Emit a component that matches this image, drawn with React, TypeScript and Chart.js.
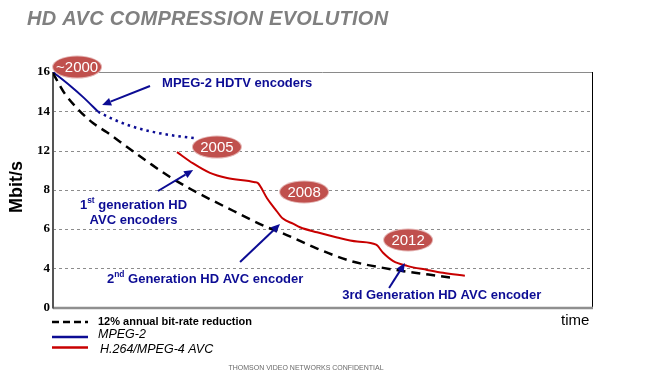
import React, { useEffect, useRef } from "react";
import { Chart, registerables } from "chart.js";

Chart.register(...registerables);

// Y axis tick labels (evenly spaced on the axis)
const yTickLabels = [0, 4, 6, 8, 12, 14, 16];

// 12% annual bit-rate reduction reference (dashed)
const refYears = [2000.0, 2000.22, 2000.38, 2000.82, 2001.26, 2001.7, 2002.11, 2002.49, 2003.06, 2003.69, 2004.38, 2005.68, 2006.75, 2007.25, 2008.33, 2009.37, 2010.41, 2012.58];
const refMbps = [15.95, 15.3, 14.88, 14.05, 13.4, 12.93, 12.45, 12.0, 10.68, 9.3, 8.0, 6.93, 6.09, 5.78, 5.0, 4.38, 4.02, 3.03];

// MPEG-2 measured (solid)
const mpeg2Years = [2000.0, 2000.54, 2000.95, 2001.42];
const mpeg2Mbps = [16, 15.3, 14.72, 13.98];

// MPEG-2 projected (dotted)
const mpeg2LateYears = [2001.42, 2001.89, 2002.43, 2003.06, 2003.69, 2004.51];
const mpeg2LateMbps = [13.98, 13.6, 13.26, 12.98, 12.79, 12.62];

// H.264/MPEG-4 AVC
const avcYears = [2003.91, 2004.42, 2004.95, 2005.49, 2006.37, 2006.47, 2006.75, 2007.0, 2007.25, 2007.57, 2007.79, 2008.33, 2008.96, 2009.59, 2010.19, 2010.41, 2010.72, 2011.17, 2011.8, 2012.3, 2012.99];
const avcMbps = [11.84, 10.68, 9.72, 9.2, 8.77, 8.66, 7.57, 7.03, 6.53, 6.27, 6.09, 5.83, 5.57, 5.36, 5.2, 4.79, 4.38, 4.12, 3.83, 3.53, 3.23];

// Era badges: label, year, axis position
const badgeLabels = ["~2000", "2005", "2008", "2012"];
const badgeYears = [2000.76, 2005.17, 2007.92, 2011.2];
const badgeLevels = [6.127, 4.089, 2.943, 1.72];

const BLUE = "#0c0c94";
const RED = "#c80000";

function toLevel(v: number): number {
  const t = yTickLabels;
  for (let i = 0; i < t.length - 1; i++) {
    if (v <= t[i + 1] || i === t.length - 2) {
      return i + (v - t[i]) / (t[i + 1] - t[i]);
    }
  }
  return t.length - 1;
}

function pts(xs: number[], ys: number[]) {
  return xs.map((x, i) => ({ x, y: toLevel(ys[i]) }));
}

type Part = { t: string; sup?: boolean };

function drawParts(ctx: CanvasRenderingContext2D, parts: Part[], x: number, y: number, size: number, align: "left" | "center") {
  const font = (s: number) => `bold ${s}px "Liberation Sans", Arial, sans-serif`;
  let total = 0;
  parts.forEach((p) => {
    ctx.font = font(p.sup ? size * 0.65 : size);
    total += ctx.measureText(p.t).width;
  });
  let cx = align === "center" ? x - total / 2 : x;
  ctx.textAlign = "left";
  ctx.textBaseline = "middle";
  parts.forEach((p) => {
    ctx.font = font(p.sup ? size * 0.65 : size);
    ctx.fillText(p.t, cx, p.sup ? y - size * 0.35 : y);
    cx += ctx.measureText(p.t).width;
  });
}

function arrow(ctx: CanvasRenderingContext2D, x1: number, y1: number, x2: number, y2: number) {
  const ang = Math.atan2(y2 - y1, x2 - x1);
  const hl = 9, hw = 4;
  const bx = x2 - hl * Math.cos(ang), by = y2 - hl * Math.sin(ang);
  ctx.save();
  ctx.strokeStyle = BLUE;
  ctx.fillStyle = BLUE;
  ctx.lineWidth = 2;
  ctx.beginPath();
  ctx.moveTo(x1, y1);
  ctx.lineTo(bx, by);
  ctx.stroke();
  ctx.beginPath();
  ctx.moveTo(x2, y2);
  ctx.lineTo(bx + hw * Math.sin(ang), by - hw * Math.cos(ang));
  ctx.lineTo(bx - hw * Math.sin(ang), by + hw * Math.cos(ang));
  ctx.closePath();
  ctx.fill();
  ctx.restore();
}

const decor = {
  id: "decor",
  beforeDatasetsDraw(chart: any) {
    const { ctx, chartArea: a, scales } = chart;
    const ys = scales.y;
    ctx.save();
    // gridlines
    ctx.strokeStyle = "#8c8c8c";
    ctx.lineWidth = 1;
    ctx.setLineDash([3, 3]);
    for (let l = 1; l < yTickLabels.length - 1; l++) {
      const y = Math.round(ys.getPixelForValue(l)) + 0.5;
      ctx.beginPath();
      ctx.moveTo(a.left, y);
      ctx.lineTo(a.right, y);
      ctx.stroke();
    }
    ctx.setLineDash([]);
    // frame
    ctx.strokeStyle = "#8a8a8a";
    ctx.lineWidth = 1;
    ctx.beginPath();
    ctx.moveTo(a.left, Math.round(a.top) + 0.5);
    ctx.lineTo(a.right, Math.round(a.top) + 0.5);
    ctx.stroke();
    ctx.strokeStyle = "#000";
    ctx.beginPath();
    ctx.moveTo(Math.round(a.right) + 0.5, a.top);
    ctx.lineTo(Math.round(a.right) + 0.5, a.bottom + 1);
    ctx.stroke();
    ctx.strokeStyle = "#8f8f8f";
    ctx.lineWidth = 2.5;
    ctx.beginPath();
    ctx.moveTo(a.left, a.bottom + 0.5);
    ctx.lineTo(a.right + 1, a.bottom + 0.5);
    ctx.stroke();
    ctx.strokeStyle = "#555";
    ctx.lineWidth = 2;
    ctx.beginPath();
    ctx.moveTo(a.left, a.top);
    ctx.lineTo(a.left, a.bottom + 1);
    ctx.stroke();
    ctx.restore();
  },
  afterDatasetsDraw(chart: any) {
    const { ctx, scales } = chart;
    const xs = scales.x, ys = scales.y;
    const X = (v: number) => xs.getPixelForValue(v);
    const Y = (v: number) => ys.getPixelForValue(v);
    ctx.save();

    // badges
    badgeLabels.forEach((lab, i) => {
      const cx = X(badgeYears[i]), cy = Y(badgeLevels[i]);
      ctx.fillStyle = "#e3b3b2";
      ctx.beginPath();
      ctx.ellipse(cx, cy, 25, 11.5, 0, 0, Math.PI * 2);
      ctx.fill();
      ctx.fillStyle = "#c0504d";
      ctx.beginPath();
      ctx.ellipse(cx, cy, 24, 10.5, 0, 0, Math.PI * 2);
      ctx.fill();
      ctx.fillStyle = "#fff";
      ctx.font = '15px "Liberation Sans", Arial, sans-serif';
      ctx.textAlign = "center";
      ctx.textBaseline = "middle";
      ctx.fillText(lab, cx, cy + 1);
    });

    // arrows
    arrow(ctx, X(2003.06), Y(5.643), X(2001.55), Y(5.159));
    arrow(ctx, X(2003.31), Y(2.968), X(2004.42), Y(3.503));
    arrow(ctx, X(2005.9), Y(1.159), X(2007.16), Y(2.127));
    arrow(ctx, X(2010.6), Y(0.497), X(2011.1), Y(1.134));

    // annotation texts
    ctx.fillStyle = BLUE;
    drawParts(ctx, [{ t: "MPEG-2 HDTV encoders" }], X(2003.44), Y(5.72), 13, "left");
    drawParts(ctx, [{ t: "1" }, { t: "st", sup: true }, { t: " generation HD" }], X(2002.54), Y(2.611), 13, "center");
    drawParts(ctx, [{ t: "AVC encoders" }], X(2002.54), Y(2.229), 13, "center");
    drawParts(ctx, [{ t: "2" }, { t: "nd", sup: true }, { t: " Generation HD AVC encoder" }], X(2001.7), Y(0.726), 13, "left");
    drawParts(ctx, [{ t: "3rd Generation HD AVC encoder" }], X(2009.12), Y(0.318), 13, "left");
    ctx.restore();
  },
  afterDraw(chart: any) {
    const { ctx } = chart;
    ctx.save();
    // title
    ctx.fillStyle = "#808080";
    ctx.font = 'italic bold 20px "Liberation Sans", Arial, sans-serif';
    ctx.textAlign = "left";
    ctx.textBaseline = "middle";
    try { (ctx as any).letterSpacing = "0.3px"; } catch (e) {}
    ctx.fillText("HD AVC COMPRESSION EVOLUTION", 27, 19.5);
    try { (ctx as any).letterSpacing = "0px"; } catch (e) {}

    // y title
    ctx.save();
    ctx.translate(17, 187);
    ctx.rotate(-Math.PI / 2);
    ctx.fillStyle = "#000";
    ctx.font = 'bold 18px "Liberation Sans", Arial, sans-serif';
    ctx.textAlign = "center";
    ctx.fillText("Mbit/s", 0, 0);
    ctx.restore();

    // time
    ctx.fillStyle = "#000";
    ctx.font = '15px "Liberation Sans", Arial, sans-serif';
    ctx.textAlign = "left";
    ctx.fillText("time", 561, 321);

    // legend
    const ds = chart.data.datasets;
    const rows = [
      { y: 322, ty: 322, ds: ds[0], font: 'bold 11px "Liberation Sans", Arial, sans-serif', tx: 98 },
      { y: 337, ty: 335, ds: ds[1], font: 'italic 12.5px "Liberation Sans", Arial, sans-serif', tx: 98 },
      { y: 347.5, ty: 350, ds: ds[3], font: 'italic 12.5px "Liberation Sans", Arial, sans-serif', tx: 100 },
    ];
    rows.forEach((r, i) => {
      ctx.strokeStyle = r.ds.borderColor;
      ctx.lineWidth = 2.5;
      ctx.setLineDash(i === 0 ? [7, 4] : []);
      ctx.beginPath();
      ctx.moveTo(52, r.y);
      ctx.lineTo(88, r.y);
      ctx.stroke();
      ctx.setLineDash([]);
      ctx.fillStyle = "#000";
      ctx.font = r.font;
      ctx.fillText(r.ds.label, r.tx, r.ty);
    });

    // confidentiality footer
    ctx.fillStyle = "#6a6a6a";
    ctx.font = '7px "Liberation Sans", Arial, sans-serif';
    ctx.textAlign = "center";
    ctx.fillText("THOMSON VIDEO NETWORKS CONFIDENTIAL", 306, 368);
    ctx.restore();
  },
};

export default function App() {
  const ref = useRef<HTMLCanvasElement | null>(null);
  useEffect(() => {
    if (!ref.current) return;
    const chart = new Chart(ref.current, {
      type: "line",
      data: {
        datasets: [
          {
            label: "12% annual bit-rate reduction",
            data: pts(refYears, refMbps),
            borderColor: "#000",
            borderWidth: 2.5,
            borderDash: [9, 6],
            pointRadius: 0,
            cubicInterpolationMode: "monotone",
            fill: false,
          },
          {
            label: "MPEG-2",
            data: pts(mpeg2Years, mpeg2Mbps),
            borderColor: BLUE,
            borderWidth: 2,
            pointRadius: 0,
            cubicInterpolationMode: "monotone",
            fill: false,
          },
          {
            label: "MPEG-2 (projected)",
            data: pts(mpeg2LateYears, mpeg2LateMbps),
            borderColor: BLUE,
            borderWidth: 2.5,
            borderDash: [2.5, 4],
            pointRadius: 0,
            cubicInterpolationMode: "monotone",
            fill: false,
          },
          {
            label: "H.264/MPEG-4 AVC",
            data: pts(avcYears, avcMbps),
            borderColor: RED,
            borderWidth: 2,
            pointRadius: 0,
            cubicInterpolationMode: "monotone",
            fill: false,
          },
        ],
      } as any,
      options: {
        responsive: false,
        animation: false,
        devicePixelRatio: 1,
        layout: { padding: { left: 0, top: 72, right: 76, bottom: 73.5 } },
        plugins: { legend: { display: false }, tooltip: { enabled: false } },
        scales: {
          x: { type: "linear", min: 2000, max: 2017, display: false },
          y: {
            type: "linear",
            min: 0,
            max: yTickLabels.length - 1,
            afterFit: (s: any) => {
              s.width = 53;
            },
            grid: { display: false, drawTicks: false },
            border: { display: false },
            ticks: {
              stepSize: 1,
              autoSkip: false,
              padding: 3,
              color: "#000",
              font: { family: '"Liberation Serif", "Times New Roman", serif', size: 13, weight: "bold" },
              callback: (v: any) => String(yTickLabels[Math.round(Number(v))] ?? ""),
            },
          },
        },
      } as any,
      plugins: [decor],
    });
    return () => chart.destroy();
  }, []);
  return (
    <div style={{ position: "fixed", left: 0, top: 0, width: 668, height: 381, background: "#fff" }}>
      <canvas ref={ref} width={668} height={381} style={{ width: 668, height: 381 }} />
    </div>
  );
}
